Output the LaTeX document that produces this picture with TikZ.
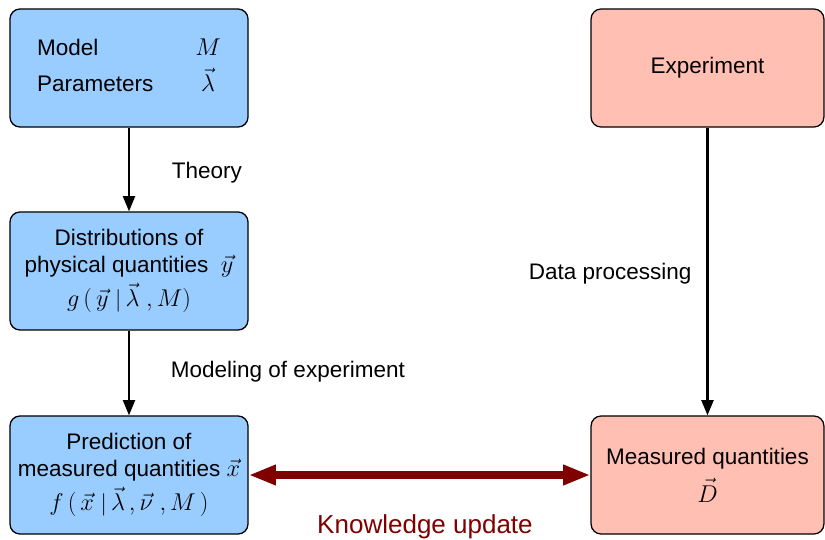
\documentclass[tikz,border=0pt]{standalone}
\usepackage{fontspec}
\setmainfont{Liberation Sans}
\usetikzlibrary{arrows.meta}

\definecolor{modelblue}{HTML}{99CCFF}
\definecolor{datapink}{HTML}{FFBFB3}
\definecolor{updatered}{HTML}{800000}

\begin{document}
\begin{tikzpicture}
  [
    x = 0.025cm, y = -0.025cm,
    font = \fontsize{16}{20}\selectfont,
    box/.style = {draw, line width = 0.9pt, rounded corners = 0.25cm,
        minimum width = 5.95cm, minimum height = 2.95cm, align = center,
        inner sep = 0pt},
    theorybox/.style = {box, fill = modelblue},
    databox/.style = {box, fill = datapink, minimum width = 5.82cm},
    flow/.style = {line width = 1.5pt, -{Triangle[length = 0.38cm, width = 0.3cm]}},
    update/.style = {line width = 5pt, updatered,
        {Triangle[length = 0.68cm, width = 0.47cm]}-{Triangle[length = 0.68cm, width = 0.47cm]}},
  ]

  \useasboundingbox (0,0) rectangle (825,540);

  \node [theorybox] (model) at (129,68) {%
    \begin{tabular}{@{}l@{\hspace{1.05cm}}c@{}}
      Model & $M$ \\[3pt]
      Parameters & $\vec{\lambda}$
    \end{tabular}};
  \node [theorybox] (distr) at (129,271) {Distributions of\\[-1pt]
    physical quantities \ $\vec{y}$\\[3pt]
    $g\,(\,\vec{y}\;\textsf{|}\,\vec{\lambda}\;, M)$};
  \node [theorybox] (pred) at (129,475) {Prediction of\\[-1pt]
    measured quantities $\vec{x}$\\[3pt]
    $f\,(\,\vec{x}\;\textsf{|}\,\vec{\lambda}\,,\vec{\nu}\;, M\,)$};

  \node [databox] (exper) at (707.5,68) {Experiment};
  \node [databox] (meas) at (707.5,475) {Measured quantities\\[6pt] $\vec{D}$};

  \draw [flow] (model) -- (distr);
  \draw [flow] (distr) -- (pred);
  \draw [flow] (exper) -- (meas);
  \draw [update] (pred) -- (meas);

  \node [anchor = west] (theory) at (167,173) {Theory};
  \node [anchor = west] (modexp) at (166,372) {Modeling of experiment};
  \node [anchor = west] (dataproc) at (524,274) {Data processing};
  \node [updatered, font = \fontsize{18.5}{22}\selectfont] (knowl) at (425,527)
    {Knowledge update};

\end{tikzpicture}
\end{document}
